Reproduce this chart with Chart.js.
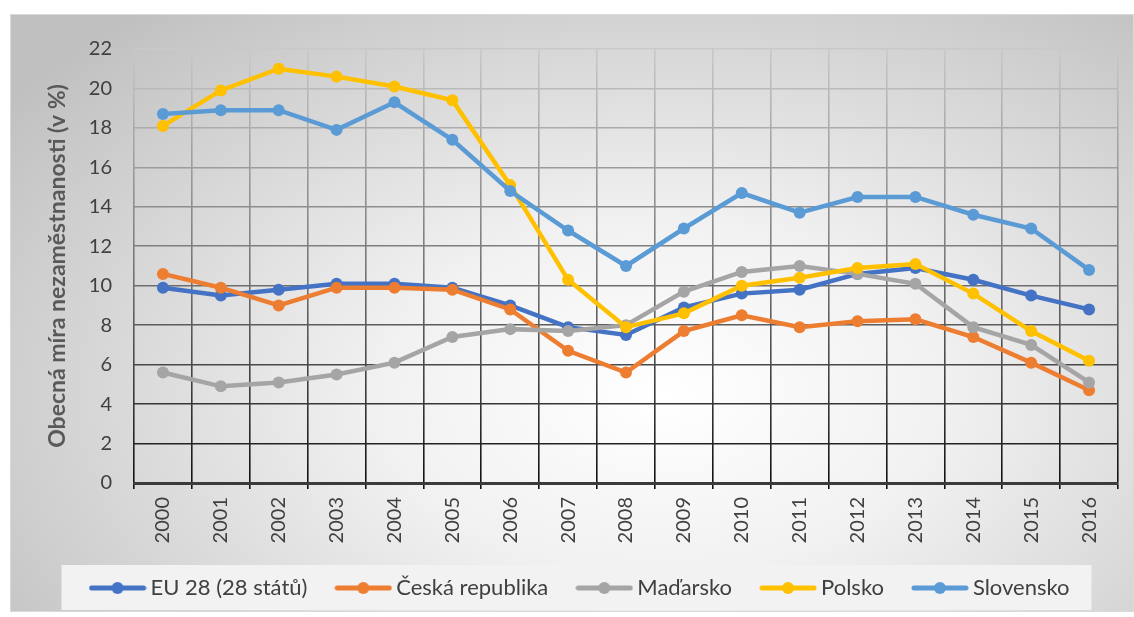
<!DOCTYPE html>
<html>
<head>
<meta charset="utf-8">
<script src="https://cdn.jsdelivr.net/npm/chart.js"></script>
<style>
  html, body { margin: 0; padding: 0; background: #ffffff; }
  #box {
    position: absolute; left: 10px; top: 14px; width: 1124px; height: 598px;
    box-sizing: border-box; border: 1px solid #d9d9d9; overflow: hidden;
    background: radial-gradient(ellipse 72% 85% at 58% 64%, #ffffff 0%, #f1f1f1 35%, #c0c0c0 100%);
  }
  #box canvas { position: absolute; left: 0; top: 0; }
</style>
</head>
<body>
<div id="box"><canvas id="unempChart" width="1124" height="598"></canvas></div>
<script>
// roky
const years = ['2000', '2001', '2002', '2003', '2004', '2005', '2006', '2007', '2008',
    '2009', '2010', '2011', '2012', '2013', '2014', '2015', '2016'];

// míra nezaměstnanosti (v %)
const eu28 = [9.9, 9.5, 9.8, 10.1, 10.1, 9.9, 9.0, 7.9, 7.5, 8.9, 9.6, 9.8, 10.6, 10.9, 10.3, 9.5, 8.8];
const cesko = [10.6, 9.9, 9.0, 9.9, 9.9, 9.8, 8.8, 6.7, 5.6, 7.7, 8.5, 7.9, 8.2, 8.3, 7.4, 6.1, 4.7];
const madarsko = [5.6, 4.9, 5.1, 5.5, 6.1, 7.4, 7.8, 7.7, 8.0, 9.7, 10.7, 11.0, 10.6, 10.1, 7.9, 7.0, 5.1];
const polsko = [18.1, 19.9, 21.0, 20.6, 20.1, 19.4, 15.1, 10.3, 7.9, 8.6, 10.0, 10.4, 10.9, 11.1, 9.6, 7.7, 6.2];
const slovensko = [18.7, 18.9, 18.9, 17.9, 19.3, 17.4, 14.8, 12.8, 11.0, 12.9, 14.7, 13.7, 14.5, 14.5, 13.6, 12.9, 10.8];

const seriesNames = ['EU 28 (28 států)', 'Česká republika', 'Maďarsko', 'Polsko', 'Slovensko'];
const seriesValues = [eu28, cesko, madarsko, polsko, slovensko];
const seriesColors = ['#4472C4', '#ED7D31', '#A5A5A5', '#FFC000', '#5B9BD5'];

const yTicks = [0, 2, 4, 6, 8, 10, 12, 14, 16, 18, 20, 22];

const FONT = "Lato, 'Open Sans', 'DejaVu Sans', sans-serif";

// ikona legendy: čára s bodem
function legendIcon(color) {
    const c = document.createElement('canvas');
    c.width = 58;
    c.height = 14;
    const g = c.getContext('2d');
    g.strokeStyle = color;
    g.lineWidth = 5;
    g.lineCap = 'round';
    g.beginPath();
    g.moveTo(3, 7);
    g.lineTo(55, 7);
    g.stroke();
    g.fillStyle = color;
    g.beginPath();
    g.arc(29, 7, 6, 0, Math.PI * 2);
    g.fill();
    return c;
}
const legendIcons = seriesColors.map(legendIcon);

// barva mřížky - od světle šedé nahoře po černou dole
function gridColor(context) {
    const chart = context.chart;
    const area = chart.chartArea;
    if (!area) return '#888888';
    const grad = chart.ctx.createLinearGradient(0, area.top, 0, area.bottom);
    grad.addColorStop(0, '#c9c9c9');
    grad.addColorStop(0.5, '#777777');
    grad.addColorStop(1, '#111111');
    return grad;
}

// legenda trochu doprava + pozadí legendy
const legendBackground = {
    id: 'legendBackground',
    afterLayout(chart) {
        if (!chart.legend) return;
        chart.legend.left += 18;
        chart.legend.right += 18;
    },
    beforeDraw(chart) {
        const legend = chart.legend;
        if (!legend || !legend.legendHitBoxes || !legend.legendHitBoxes.length) return;
        const boxes = legend.legendHitBoxes;
        const first = boxes[0];
        const last = boxes[boxes.length - 1];
        const cy = first.top + first.height / 2;
        const ctx = chart.ctx;
        ctx.save();
        ctx.fillStyle = '#f2f2f2';
        ctx.fillRect(first.left - 34, cy - 23, (last.left + last.width + 22) - (first.left - 34), 45);
        ctx.restore();
    }
};

function initChart() {
    const ctx = document.getElementById('unempChart');
    if (!ctx) return;

    new Chart(ctx, {
        type: 'line',
        data: {
            labels: years,
            datasets: seriesNames.map((name, i) => ({
                label: name,
                data: seriesValues[i],
                borderColor: seriesColors[i],
                backgroundColor: seriesColors[i],
                borderWidth: 4.5,
                pointStyle: 'circle',
                pointRadius: 6,
                pointBorderWidth: 0,
                pointBackgroundColor: seriesColors[i],
                tension: 0,
                order: seriesNames.length - i
            }))
        },
        options: {
            responsive: false,
            animation: false,
            layout: { padding: { top: 29, right: 17, left: 0, bottom: 4 } },
            scales: {
                x: {
                    offset: true,
                    grid: {
                        offset: true,
                        color: gridColor,
                        lineWidth: 1.6,
                        drawTicks: true,
                        tickLength: 6
                    },
                    border: { display: true, color: '#3b3b3b', width: 3 },
                    ticks: {
                        minRotation: 90,
                        maxRotation: 90,
                        padding: 8,
                        color: '#404040',
                        font: { family: FONT, size: 20 }
                    },
                    afterFit(axis) { axis.height = 60; }
                },
                y: {
                    min: 0,
                    max: 22,
                    afterBuildTicks(axis) { axis.ticks = yTicks.map(v => ({ value: v })); },
                    grid: {
                        color: gridColor,
                        lineWidth: 1.6,
                        drawTicks: false
                    },
                    border: { display: false },
                    ticks: {
                        padding: 22,
                        color: '#404040',
                        font: { family: FONT, size: 20 }
                    },
                    title: {
                        display: true,
                        text: 'Obecná míra nezaměstnanosti (v %)',
                        color: '#595959',
                        font: { family: FONT, size: 23, weight: 'bold' },
                        padding: { top: 33, bottom: 0 }
                    },
                    afterFit(axis) { axis.width = 123; }
                }
            },
            plugins: {
                legend: {
                    position: 'bottom',
                    labels: {
                        usePointStyle: true,
                        pointStyleWidth: 44,
                        boxHeight: 14,
                        padding: 34,
                        color: '#404040',
                        font: { family: FONT, size: 22 },
                        sort: (a, b) => a.datasetIndex - b.datasetIndex,
                        generateLabels(chart) {
                            const items = Chart.defaults.plugins.legend.labels.generateLabels(chart);
                            items.forEach(item => { item.pointStyle = legendIcons[item.datasetIndex]; });
                            return items;
                        }
                    }
                },
                tooltip: { enabled: false }
            }
        },
        plugins: [legendBackground]
    });
}

if (document.readyState === 'loading') {
    document.addEventListener('DOMContentLoaded', initChart);
} else {
    initChart();
}
</script>
</body>
</html>
